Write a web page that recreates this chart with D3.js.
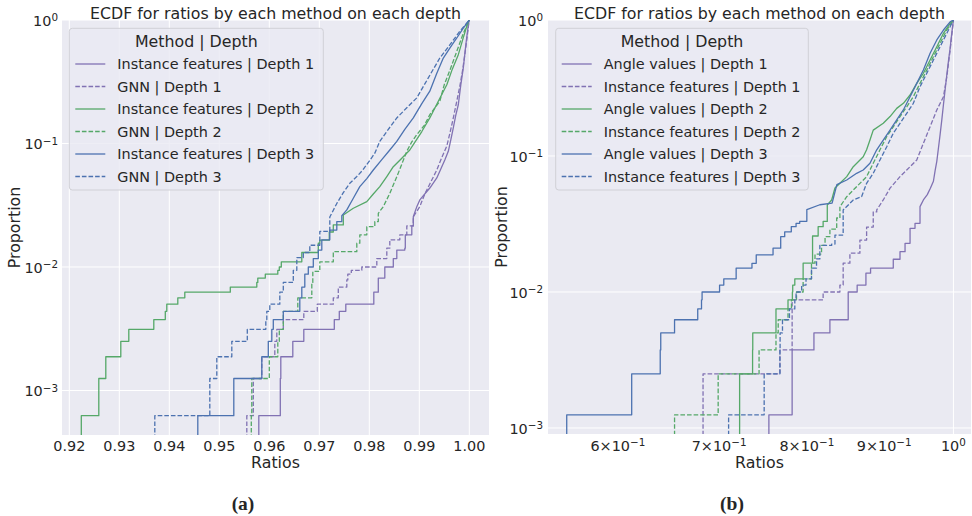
<!DOCTYPE html>
<html>
<head>
<meta charset="utf-8">
<script src="https://cdn.jsdelivr.net/npm/d3@7"></script>
<style>
  body { margin: 0; background: #fff; }
  svg text { font-family: "DejaVu Sans", sans-serif; fill: #262626; }
</style>
</head>
<body>
<div id="chart"></div>
<script>
// ---- panel (a): [ratio, proportion] steps
const aIfD1 = [[0.9579,6.25e-4],[0.9622,1.25e-3],[0.9623,1.875e-3],[0.9647,2.5e-3],[0.9669,3.125e-3],[0.9730,3.75e-3],[0.9740,4.375e-3],[0.9753,5.0e-3],[0.9809,6.25e-3],[0.9818,8.125e-3],[0.9831,0.01],[0.9848,0.0117],[0.9855,0.0137],[0.9871,0.0142],[0.9872,0.0182],[0.9885,0.0215],[0.9888,0.0255],[0.9895,0.0308],[0.9901,0.0349],[0.9921,0.0436],[0.9935,0.0526],[0.9941,0.0596],[0.9951,0.0735],[0.9958,0.0865],[0.9963,0.107],[0.9968,0.134],[0.9973,0.170],[0.9978,0.206],[0.9983,0.298],[0.9988,0.409],[0.9993,0.628],[0.9998,0.91],[1.0,1.0]];
const aGnnD1 = [[0.9555,6.25e-4],[0.9568,1.25e-3],[0.9585,1.875e-3],[0.9611,2.5e-3],[0.9615,3.125e-3],[0.9628,3.75e-3],[0.9669,4.375e-3],[0.9696,5.0e-3],[0.9728,5.625e-3],[0.9738,6.875e-3],[0.9755,7.85e-3],[0.9757,8.75e-3],[0.9764,9.4e-3],[0.9785,0.01],[0.9815,0.0117],[0.9835,0.0142],[0.9841,0.0166],[0.9861,0.0182],[0.9875,0.0215],[0.9888,0.0255],[0.9901,0.0308],[0.9911,0.039],[0.9921,0.047],[0.9935,0.061],[0.9945,0.077],[0.9955,0.0955],[0.9962,0.125],[0.9968,0.161],[0.9975,0.22],[0.9981,0.29],[0.9987,0.40],[0.9993,0.60],[0.9998,0.87],[1.0,1.0]];
const aIfD2 = [[0.9224,6.25e-4],[0.9259,1.25e-3],[0.9273,1.875e-3],[0.9303,2.5e-3],[0.9319,3.125e-3],[0.9369,3.75e-3],[0.9392,4.375e-3],[0.9395,5.0e-3],[0.9417,5.625e-3],[0.9431,6.25e-3],[0.9522,6.875e-3],[0.9575,7.5e-3],[0.9577,8.125e-3],[0.9592,8.75e-3],[0.9617,9.375e-3],[0.9620,0.01],[0.9624,0.0110],[0.9665,0.0131],[0.9698,0.0156],[0.9701,0.0165],[0.9720,0.0192],[0.9728,0.0219],[0.9748,0.0264],[0.9768,0.0299],[0.9795,0.0338],[0.9808,0.0390],[0.9821,0.0447],[0.9835,0.0540],[0.9848,0.0649],[0.9865,0.0760],[0.9881,0.0886],[0.9888,0.0978],[0.9905,0.125],[0.9921,0.161],[0.9938,0.220],[0.9955,0.299],[0.9966,0.400],[0.9978,0.524],[0.9988,0.72],[0.9998,0.976],[1.0,1.0]];
const aGnnD2 = [[0.9564,6.25e-4],[0.9565,1.25e-3],[0.9600,1.875e-3],[0.9617,2.5e-3],[0.9620,3.125e-3],[0.9628,4.375e-3],[0.9657,5.625e-3],[0.9685,7.5e-3],[0.9687,9.2e-3],[0.9701,0.011],[0.9728,0.0133],[0.9775,0.0156],[0.9781,0.0182],[0.9795,0.0212],[0.9811,0.0233],[0.9818,0.0272],[0.9828,0.0308],[0.9841,0.0395],[0.9855,0.0538],[0.9865,0.068],[0.9875,0.0865],[0.9885,0.103],[0.9895,0.118],[0.9910,0.140],[0.9921,0.171],[0.9941,0.220],[0.9950,0.30],[0.9962,0.40],[0.9975,0.558],[0.9988,0.78],[1.0,1.0]];
const aIfD3 = [[0.9457,6.25e-4],[0.9529,1.25e-3],[0.9585,1.875e-3],[0.9598,2.5e-3],[0.9605,3.125e-3],[0.9608,3.75e-3],[0.9628,4.375e-3],[0.9661,5.625e-3],[0.9665,6.875e-3],[0.9671,8.75e-3],[0.9678,0.01],[0.9688,0.0117],[0.9698,0.0137],[0.9705,0.0166],[0.9721,0.0199],[0.9735,0.0233],[0.9745,0.0260],[0.9755,0.0290],[0.9768,0.0360],[0.9781,0.0447],[0.9795,0.0520],[0.9808,0.0610],[0.9825,0.0740],[0.9841,0.0886],[0.9855,0.104],[0.9871,0.130],[0.9888,0.161],[0.9905,0.210],[0.9921,0.265],[0.9935,0.370],[0.9948,0.492],[0.9962,0.600],[0.9975,0.715],[0.9988,0.86],[1.0,1.0]];
const aGnnD3 = [[0.9371,6.25e-4],[0.9481,1.25e-3],[0.9495,1.875e-3],[0.9525,2.5e-3],[0.9556,3.125e-3],[0.9593,3.75e-3],[0.9595,4.375e-3],[0.9601,5.0e-3],[0.9621,6.25e-3],[0.9628,7.5e-3],[0.9648,9.4e-3],[0.9655,0.0119],[0.9668,0.0131],[0.9681,0.0150],[0.9701,0.0194],[0.9721,0.0254],[0.9735,0.0327],[0.9748,0.0400],[0.9761,0.0476],[0.9775,0.0540],[0.9787,0.0610],[0.9800,0.0720],[0.9811,0.0834],[0.9821,0.104],[0.9838,0.130],[0.9855,0.161],[0.9875,0.195],[0.9895,0.234],[0.9918,0.340],[0.9941,0.492],[0.9961,0.628],[0.9980,0.80],[1.0,1.0]];

// ---- panel (b)
const bAngD1 = [[0.7551,1.25e-3],[0.7823,3.75e-3],[0.8087,5.0e-3],[0.8286,6.25e-3],[0.8520,0.01],[0.8637,0.01125],[0.8753,0.01375],[0.8815,0.015],[0.9125,0.0174],[0.9219,0.0198],[0.9290,0.0228],[0.9361,0.0294],[0.9432,0.032],[0.9504,0.0424],[0.9553,0.0475],[0.9610,0.052],[0.9655,0.058],[0.9700,0.0652],[0.9725,0.078],[0.9750,0.0914],[0.9775,0.115],[0.9799,0.1435],[0.9825,0.185],[0.9849,0.238],[0.9875,0.31],[0.9900,0.396],[0.9925,0.50],[0.9950,0.622],[0.9975,0.80],[1.0,1.0]];
const bIfD1 = [[0.6831,2.5e-3],[0.7679,3.75e-3],[0.7823,8.75e-3],[0.8201,0.01],[0.8413,0.01125],[0.8455,0.0163],[0.8542,0.0193],[0.8673,0.0241],[0.8762,0.030],[0.8851,0.0388],[0.8898,0.0401],[0.8987,0.0475],[0.9080,0.058],[0.9219,0.0705],[0.9314,0.0789],[0.9457,0.0935],[0.9553,0.124],[0.9651,0.164],[0.9750,0.218],[0.9849,0.273],[0.9900,0.383],[0.9950,0.602],[1.0,1.0]];
const bAngD2 = [[0.7222,2.5e-3],[0.7366,3.75e-3],[0.7368,5.0e-3],[0.7633,7.5e-3],[0.7774,8.75e-3],[0.7826,0.01],[0.7830,0.01125],[0.7855,0.0125],[0.7955,0.0163],[0.8070,0.0258],[0.8139,0.0302],[0.8201,0.033],[0.8253,0.0436],[0.8308,0.0475],[0.8350,0.0582],[0.8413,0.063],[0.8501,0.0705],[0.8586,0.0834],[0.8717,0.0988],[0.8762,0.111],[0.8807,0.131],[0.8851,0.155],[0.8987,0.174],[0.9080,0.195],[0.9173,0.224],[0.9266,0.244],[0.9361,0.281],[0.9457,0.342],[0.9553,0.406],[0.9651,0.508],[0.9750,0.636],[0.9849,0.798],[0.9950,0.946],[1.0,1.0]];
const bIfD2 = [[0.6541,1.25e-3],[0.6990,2.5e-3],[0.7439,3.75e-3],[0.7633,5.0e-3],[0.7659,6.25e-3],[0.7774,7.5e-3],[0.7815,8.75e-3],[0.7875,0.01],[0.7955,0.0125],[0.8057,0.0163],[0.8100,0.019],[0.8181,0.022],[0.8225,0.0255],[0.8286,0.029],[0.8372,0.035],[0.8413,0.0424],[0.8501,0.0502],[0.8586,0.0562],[0.8762,0.0705],[0.8851,0.0884],[0.8942,0.111],[0.9035,0.139],[0.9125,0.164],[0.9219,0.195],[0.9314,0.230],[0.9408,0.273],[0.9504,0.342],[0.9603,0.429],[0.9700,0.537],[0.9799,0.674],[0.9900,0.844],[1.0,1.0]];
const bAngD3 = [[0.5551,1.25e-3],[0.6128,2.5e-3],[0.6400,3.75e-3],[0.6405,5.0e-3],[0.6541,6.25e-3],[0.6776,7.5e-3],[0.6815,8.75e-3],[0.6821,0.01],[0.7005,0.01125],[0.7050,0.0125],[0.7184,0.015],[0.7359,0.01625],[0.7407,0.01875],[0.7599,0.021],[0.7688,0.0255],[0.7735,0.0277],[0.7813,0.0302],[0.7870,0.032],[0.7914,0.0331],[0.8000,0.0403],[0.8160,0.0438],[0.8314,0.0451],[0.8374,0.0615],[0.8501,0.0666],[0.8630,0.0746],[0.8717,0.0789],[0.8807,0.0884],[0.8898,0.111],[0.8987,0.131],[0.9080,0.155],[0.9173,0.184],[0.9266,0.218],[0.9361,0.273],[0.9457,0.342],[0.9553,0.429],[0.9651,0.569],[0.9750,0.713],[0.9849,0.844],[0.9950,0.97],[1.0,1.0]];
const bIfD3 = [[0.7102,1.25e-3],[0.7497,2.5e-3],[0.7679,3.75e-3],[0.7681,5.0e-3],[0.7709,6.25e-3],[0.7791,7.5e-3],[0.7855,8.75e-3],[0.7870,0.01],[0.7937,0.01125],[0.7990,0.0125],[0.8057,0.015],[0.8119,0.0175],[0.8160,0.022],[0.8308,0.0225],[0.8350,0.0262],[0.8455,0.0401],[0.8586,0.0475],[0.8695,0.0502],[0.8762,0.063],[0.8851,0.0746],[0.8942,0.0935],[0.9035,0.117],[0.9125,0.147],[0.9219,0.174],[0.9314,0.206],[0.9408,0.244],[0.9504,0.323],[0.9603,0.406],[0.9700,0.508],[0.9799,0.636],[0.9900,0.798],[1.0,1.0]];

const legendA = ["Instance features | Depth 1", "GNN | Depth 1", "Instance features | Depth 2", "GNN | Depth 2", "Instance features | Depth 3", "GNN | Depth 3"];
const legendB = ["Angle values | Depth 1", "Instance features | Depth 1", "Angle values | Depth 2", "Instance features | Depth 2", "Angle values | Depth 3", "Instance features | Depth 3"];

const xTicksA = [0.92, 0.93, 0.94, 0.95, 0.96, 0.97, 0.98, 0.99, 1.00];
const xTicksB = [0.6, 0.7, 0.8, 0.9, 1.0];
const xTickMantB = [6, 7, 8, 9, null];
const xTickExpB = [-1, -1, -1, -1, 0];
const yTicks = [1, 0.1, 0.01, 0.001];
const yTickExp = [0, -1, -2, -3];

const seriesColors = ["#8172B3", "#8172B3", "#55A868", "#55A868", "#4C72B0", "#4C72B0"];
const seriesDashed = [false, true, false, true, false, true];

const W = 972, H = 516;
const svg = d3.select("#chart").append("svg").attr("width", W).attr("height", H);

function supLabel(text, mant, exp) {
    const e = String(exp).replace("-", "\u2212");
    text.append("tspan").text(mant === null ? "10" : mant + "\u00D710");
    text.append("tspan").attr("dy", "-0.45em").attr("font-size", "0.72em").text(e);
}

// step corners where the curve is sparse, straight joins once it is dense
function ecdfPoints(s, floor, thr) {
    const out = [[s[0][0], floor]];
    s.forEach(p => {
        const prev = out[out.length - 1];
        if (prev[1] < thr) out.push([p[0], prev[1]]);
        out.push(p);
    });
    return out;
}

function drawPanel(cfg) {
    const g = svg.append("g");
    const x = cfg.x, y = cfg.y;
    const [x0, x1] = x.range(), [y1, y0] = y.range();

    g.append("rect").attr("x", x0).attr("y", y0).attr("width", x1 - x0).attr("height", y1 - y0).attr("fill", "#EAEAF2");

    // grid
    g.selectAll(".gx").data(cfg.xGrid).enter().append("line")
        .attr("x1", d => x(d)).attr("x2", d => x(d)).attr("y1", y0).attr("y2", y1)
        .attr("stroke", "#fff").attr("stroke-width", 1);
    g.selectAll(".gy").data(yTicks).enter().append("line")
        .attr("x1", x0).attr("x2", x1).attr("y1", d => y(d)).attr("y2", d => y(d))
        .attr("stroke", "#fff").attr("stroke-width", 1);

    g.append("clipPath").attr("id", cfg.id).append("rect")
        .attr("x", x0).attr("y", y0).attr("width", x1 - x0).attr("height", y1 - y0);

    const line = d3.line().x(d => x(d[0])).y(d => y(d[1]));
    const floor = y.domain()[0] * 0.5;
    cfg.series.forEach((s, i) => {
        g.append("path").attr("clip-path", `url(#${cfg.id})`)
            .attr("d", line(ecdfPoints(s, floor, cfg.denseFrom)))
            .attr("fill", "none")
            .attr("stroke", seriesColors[i])
            .attr("stroke-width", 1.3)
            .attr("stroke-linejoin", "round")
            .attr("stroke-dasharray", seriesDashed[i] ? "4.6,2" : null);
    });

    // y tick labels
    yTicks.forEach((t, i) => {
        const tx = g.append("text").attr("x", cfg.yLabelX).attr("y", y(t) + 6)
            .attr("text-anchor", "end").attr("font-size", 14.4);
        supLabel(tx, null, yTickExp[i]);
    });

    cfg.xLabels(g);

    g.append("text").attr("x", (x0 + x1) / 2).attr("y", 468).attr("text-anchor", "middle")
        .attr("font-size", 15.8).text("Ratios");
    g.append("text").attr("transform", `translate(${cfg.yTitleX},${(y0 + y1) / 2}) rotate(-90)`)
        .attr("text-anchor", "middle").attr("font-size", 15.8).text("Proportion");
    g.append("text").attr("x", (x0 + x1) / 2).attr("y", 18.5).attr("text-anchor", "middle")
        .attr("font-size", 15.8).text("ECDF for ratios by each method on each depth");

    // legend
    const lg = g.append("g");
    const lx = cfg.legend[0], ly = 28.3, lw = cfg.legend[1], lh = 161.7;
    lg.append("rect").attr("x", lx).attr("y", ly).attr("width", lw).attr("height", lh)
        .attr("rx", 3).attr("fill", "#EAEAF2").attr("fill-opacity", 0.8)
        .attr("stroke", "#D0D0D6").attr("stroke-width", 1);
    lg.append("text").attr("x", lx + lw / 2).attr("y", 47.3).attr("text-anchor", "middle")
        .attr("font-size", 15.8).text("Method | Depth");
    cfg.labels.forEach((lab, i) => {
        const by = 69 + i * 22.5;
        lg.append("line").attr("x1", lx + 6).attr("x2", lx + 36).attr("y1", by - 5).attr("y2", by - 5)
            .attr("stroke", seriesColors[i]).attr("stroke-width", 1.3)
            .attr("stroke-dasharray", seriesDashed[i] ? "4.6,2" : null);
        lg.append("text").attr("x", lx + 48).attr("y", by).attr("font-size", 14.4).text(lab);
    });

    svg.append("text").attr("x", cfg.caption).attr("y", 510).attr("text-anchor", "middle")
        .style("font-family", "'Liberation Serif', serif").style("font-weight", "bold")
        .attr("font-size", 19.5).text(cfg.captionText);
}

// panel (a)
const xA = d3.scaleLinear().domain([0.91854, 1.00394]).range([62, 489]);
const yA = d3.scaleLog().domain([4.36e-4, 1]).range([435, 20]);
drawPanel({
    id: "clipA", x: xA, y: yA, xGrid: xTicksA, denseFrom: 0.025,
    series: [aIfD1, aGnnD1, aIfD2, aGnnD2, aIfD3, aGnnD3], labels: legendA,
    yLabelX: 58, yTitleX: 19.5, legend: [69.3, 254], caption: 243, captionText: "(a)",
    xLabels: g => {
        g.selectAll(".xl").data(xTicksA).enter().append("text")
            .attr("x", d => xA(d)).attr("y", 450.5).attr("text-anchor", "middle")
            .attr("font-size", 14.4).text(d3.format(".2f"));
    }
});

// panel (b)
const xB = d3.scaleLog().domain([0.5395, 1.0271]).range([548, 971]);
const yB = d3.scaleLog().domain([9.03e-4, 1]).range([434, 20]);
drawPanel({
    id: "clipB", x: xB, y: yB, xGrid: [1.0], denseFrom: 0.04,
    series: [bAngD1, bIfD1, bAngD2, bIfD2, bAngD3, bIfD3], labels: legendB,
    yLabelX: 543, yTitleX: 506.5, legend: [555.7, 252.6], caption: 732, captionText: "(b)",
    xLabels: g => {
        xTicksB.forEach((t, i) => {
            const tx = g.append("text").attr("x", xB(t)).attr("y", 450.5)
                .attr("text-anchor", "middle").attr("font-size", 14.4);
            supLabel(tx, xTickMantB[i], xTickExpB[i]);
        });
    }
});
</script>
</body>
</html>
